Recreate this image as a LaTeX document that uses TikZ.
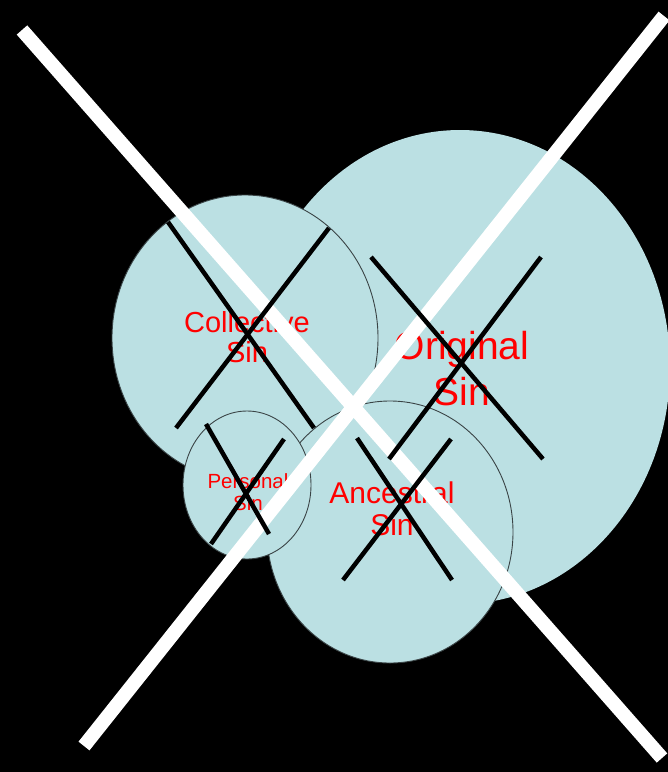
\documentclass[tikz,border=0pt]{standalone}
\usepackage{fontspec}
\setmainfont{Liberation Sans}
\usepackage{xcolor}
\usetikzlibrary{positioning}
\definecolor{sinblue}{HTML}{BBE0E3}
\definecolor{sinedge}{HTML}{3A4446}

\begin{document}
\begin{tikzpicture}[x=1pt, y=-1pt,
  sinset/.style={fill=sinblue, draw=sinedge, line width=0.9pt},
  sinlabel/.style={text=red, align=center, inner sep=0pt},
  bigcross/.style={white, line width=14pt},
  smallcross/.style={black, line width=4.5pt}]
\fill[black] (0,0) rectangle (668,772);
\useasboundingbox (0,0) rectangle (668,772);
% the four sets, back to front
\fill[sinblue] (460,367) ellipse [x radius=210, y radius=237];
\draw[sinset] (245,338) ellipse [x radius=133, y radius=143];
\draw[sinset] (390,532) ellipse [x radius=123, y radius=131];
\draw[sinset] (247,485) ellipse [x radius=64, y radius=74];
% labels
\node[sinlabel, font=\fontsize{39}{46}\selectfont] (original) at (462,369) {Original\\Sin};
\node[sinlabel, font=\fontsize{29}{30}\selectfont] (collective) at (247,337) {Collective\\Sin};
\node[sinlabel, font=\fontsize{30}{32}\selectfont] (ancestral) at (392,509) {Ancestral\\Sin};
\node[sinlabel, font=\fontsize{20.5}{22}\selectfont] (personal) at (248,492) {Personal\\Sin};
% big cross over the whole picture
\draw[bigcross] (22,30) -- (662,758);
\draw[bigcross] (84,746) -- (664,16);
% small crosses, one per set
\draw[smallcross] (168,222) -- (314,428);
\draw[smallcross] (329,228) -- (176,428);
\draw[smallcross] (371,257) -- (543,459);
\draw[smallcross] (541,257) -- (389,459);
\draw[smallcross] (357,438) -- (452,580);
\draw[smallcross] (451,439) -- (343,580);
\draw[smallcross] (206,424) -- (269,534);
\draw[smallcross] (284,439) -- (211,544);
\end{tikzpicture}
\end{document}
